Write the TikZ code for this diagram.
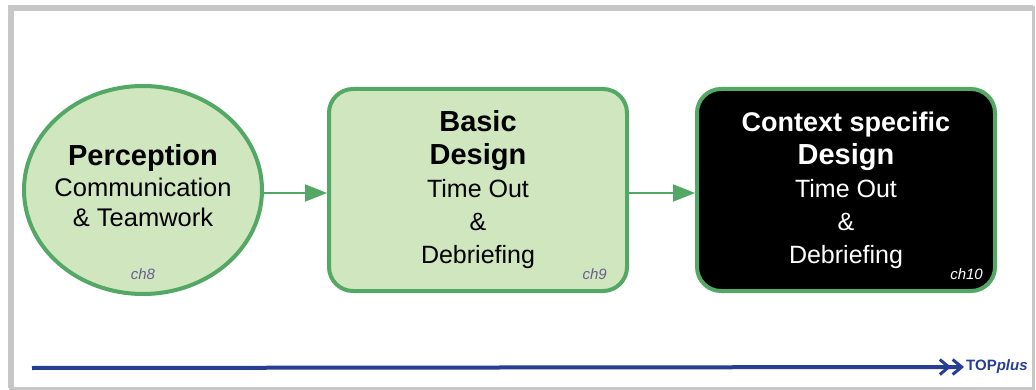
\documentclass[tikz,border=0pt]{standalone}
\usepackage{fontspec}
\setmainfont{Liberation Sans}
\usetikzlibrary{shapes.geometric, arrows.meta, positioning}
\definecolor{stagegreen}{RGB}{82,168,100}
\definecolor{stagefill}{RGB}{208,230,190}
\definecolor{chgray}{RGB}{105,95,140}
\definecolor{topblue}{RGB}{38,62,148}
\begin{document}
\begin{tikzpicture}[x=1pt, y=-1pt,
		frame/.style={draw=black!22},
		stage/.style={draw=stagegreen, line width=4pt, fill=stagefill, inner sep=0pt},
		box/.style={stage, rectangle, rounded corners=24pt, minimum width=298pt, minimum height=202pt,
			align=center, font=\fontsize{25}{33}\selectfont},
		chap/.style={font=\fontsize{15}{15}\selectfont\itshape, text=chgray, inner sep=0pt},
		flow/.style={draw=stagegreen, line width=2pt, -{Triangle[length=22pt,width=17pt]}},
		timeline/.style={draw=topblue, line width=4pt, -{Straight Barb[length=9pt,width=15pt,line width=3pt]Straight Barb[length=9pt,width=15pt,line width=3pt]}},
		node distance=63pt]
	\useasboundingbox (0,0) rectangle (1036,390);
	% Rahmen
	\draw[frame, line width=3pt] (10.5,8) rectangle (1033,388);
	\draw[frame, line width=6pt] (10.5,388) -- (10.5,8) -- (1033,8);
	% Stufen
	\node[stage, ellipse, minimum width=238pt, minimum height=208pt] (percep) at (143,190) {};
	\node[align=center, font=\fontsize{25.5}{30.5}\selectfont] (perceptxt) at ([yshift=4pt]percep.center)
		{{\fontsize{29}{30.5}\selectfont\bfseries Perception}\\Communication\\\& Teamwork};
	\node[box, right=of percep] (basic)
		{{\fontsize{29}{33}\selectfont\bfseries Basic}\\{\fontsize{29}{33}\selectfont\bfseries Design}\\Time Out\\\&\\Debriefing};
	\node[box, fill=black, text=white, right=66pt of basic] (ctx)
		{{\fontsize{27}{33}\selectfont\bfseries Context specific}\\{\fontsize{29}{33}\selectfont\bfseries Design}\\Time Out\\\&\\Debriefing};
	% Kapitel
	\node[chap] (ch8) at ([yshift=22pt]percep.south) {ch8};
	\node[chap, anchor=east] (ch9) at ([xshift=-22pt, yshift=19pt]basic.south east) {ch9};
	\node[chap, anchor=east, text=white] (ch10) at ([xshift=-14pt, yshift=19pt]ctx.south east) {ch10};
	% Pfeile
	\draw[flow] ([yshift=-3pt]percep.east) -- ([yshift=-3pt]basic.west);
	\draw[flow] ([yshift=-3pt]basic.east) -- ([yshift=-3pt]ctx.west);
	% Zeitachse
	\coordinate (tstart) at (32,368);
	\node[anchor=west, inner sep=2pt, text=topblue, font=\fontsize{15}{15}\selectfont\bfseries] (topplus) at (964,367) {TOP\textit{plus}};
	\draw[timeline] (tstart) -- (topplus.west);
\end{tikzpicture}
\end{document}
